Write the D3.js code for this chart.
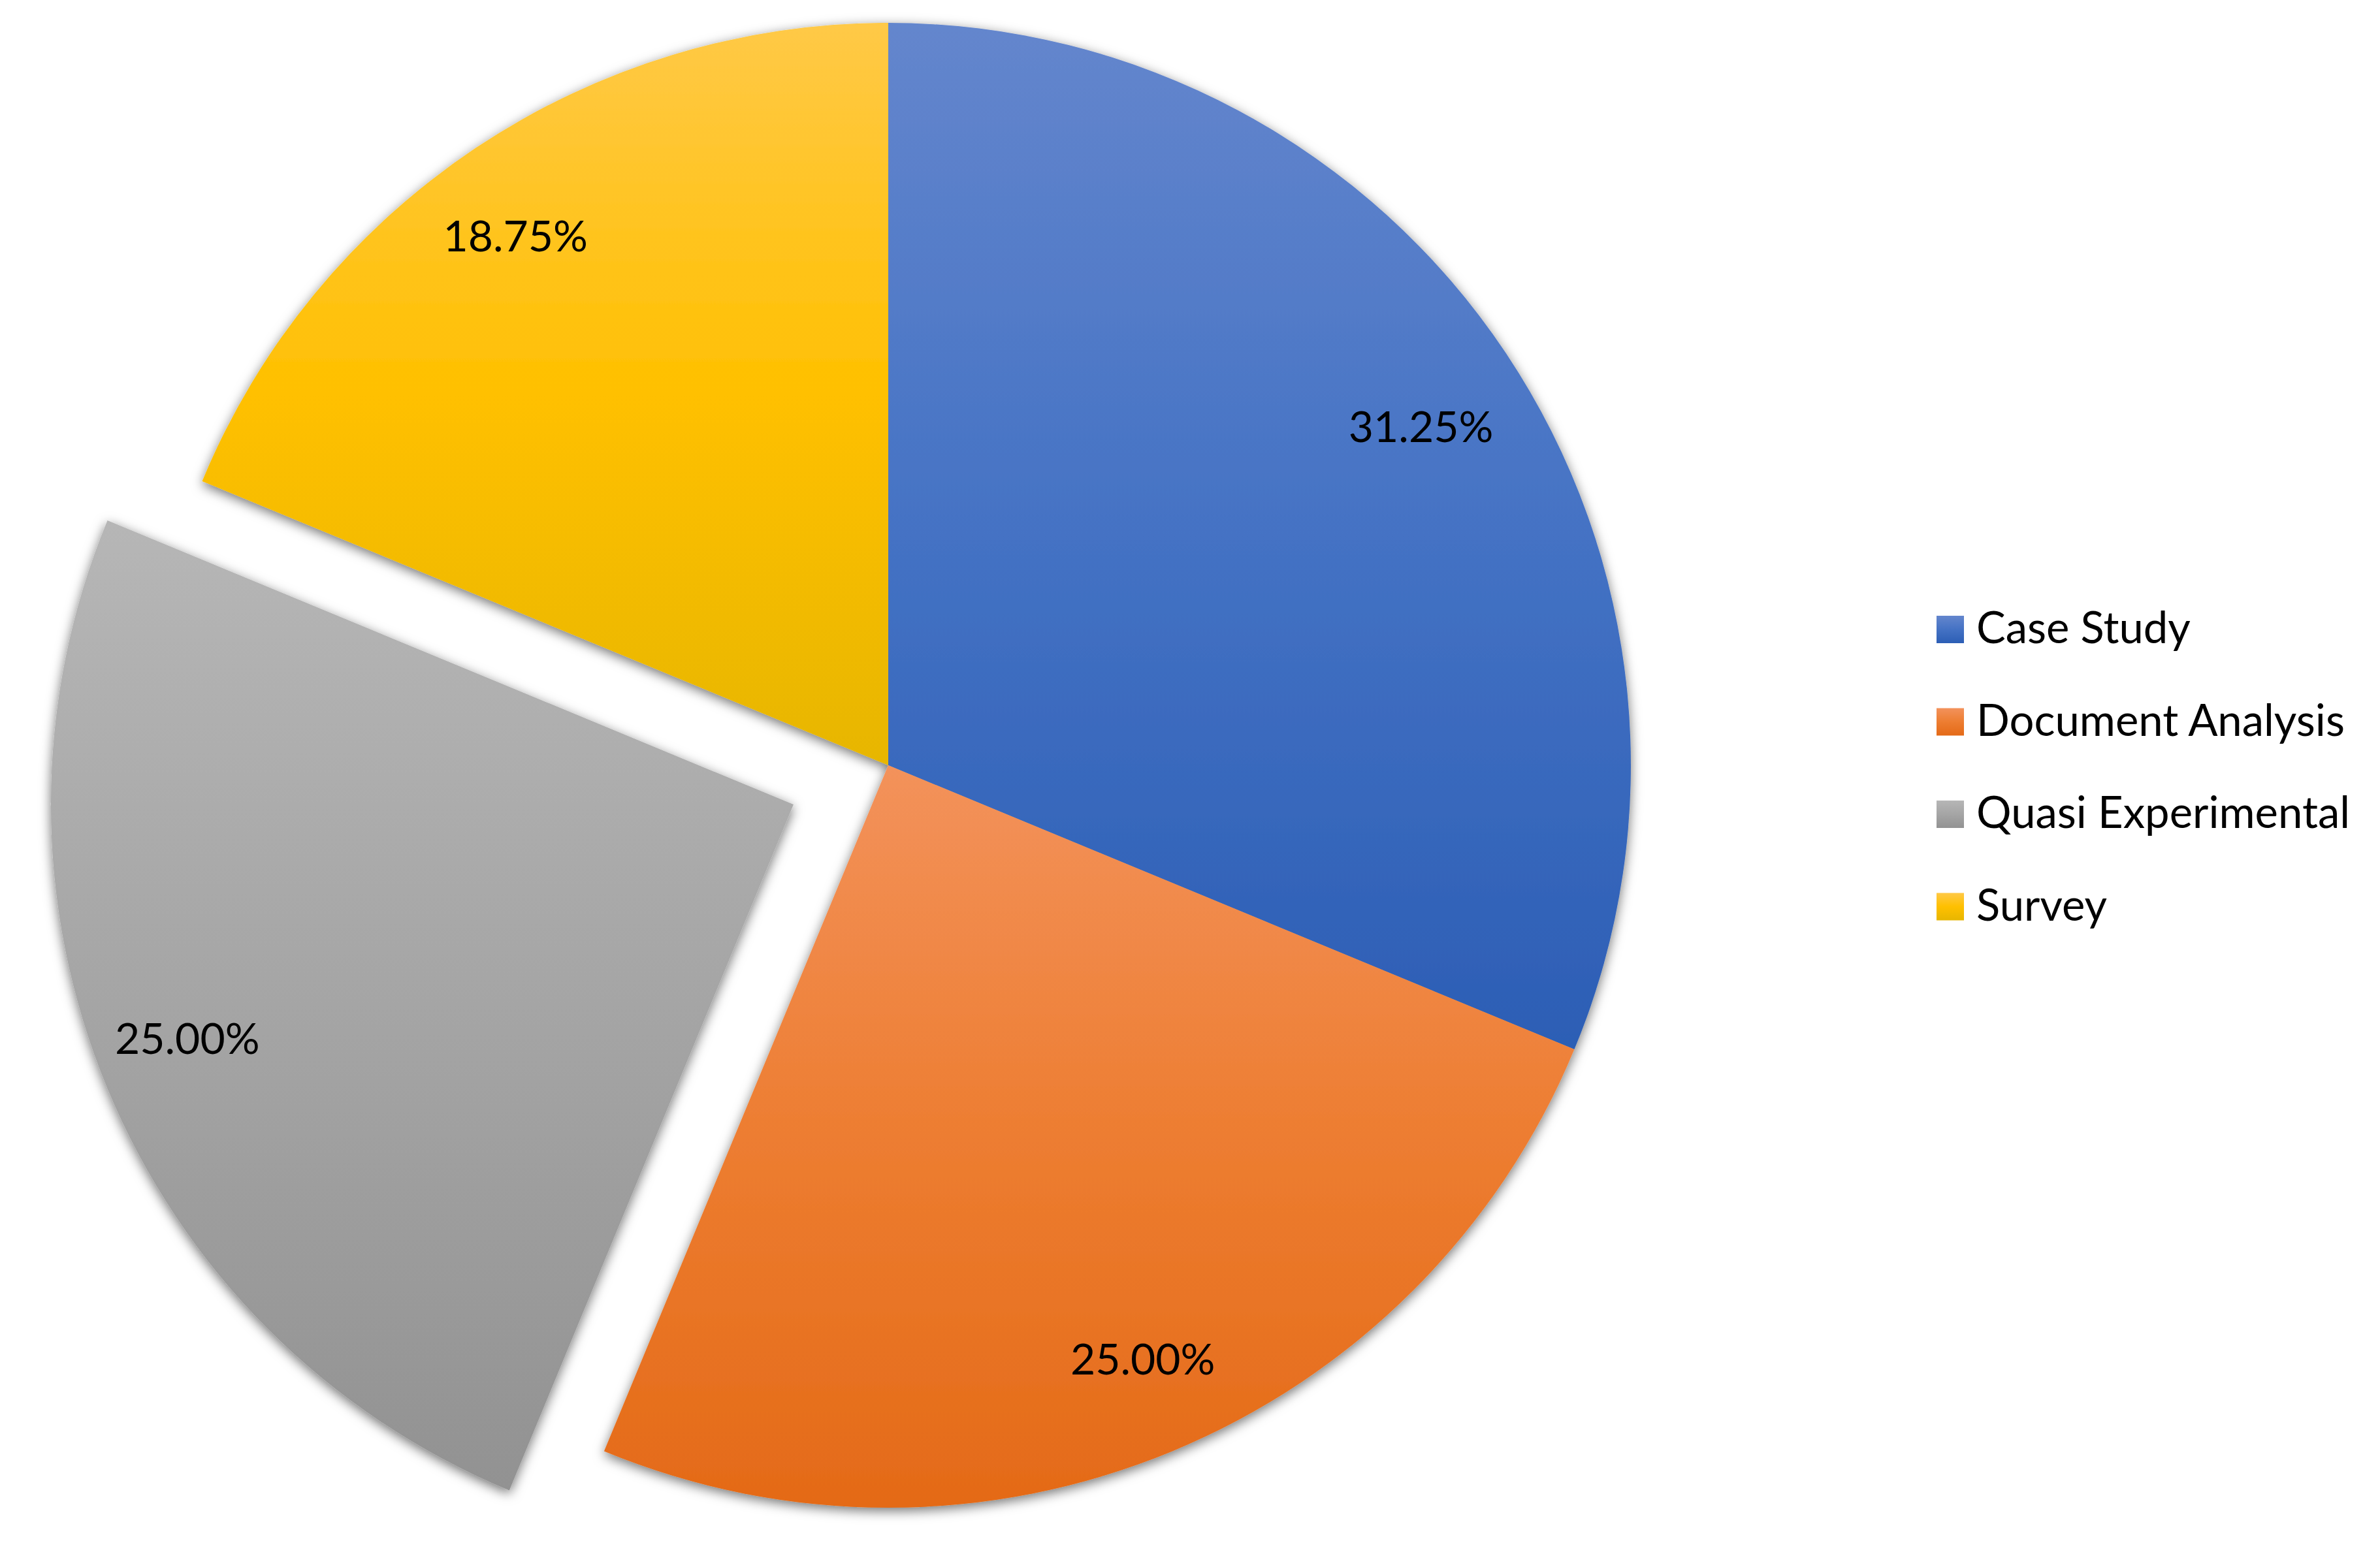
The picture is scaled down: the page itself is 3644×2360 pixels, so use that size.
<!DOCTYPE html>
<html>
<head>
<meta charset="utf-8">
<script src="https://cdn.jsdelivr.net/npm/d3@7"></script>
<style>
  html, body { margin: 0; padding: 0; background: #fff; }
  svg { display: block; }
</style>
</head>
<body>
<svg id="chart" width="3644" height="2360"></svg>
<script>
// ---- data ----
const categories = ["Case Study", "Document Analysis", "Quasi Experimental", "Survey"];
const values = [31.25, 25.00, 25.00, 18.75];
const valueLabels = ["31.25%", "25.00%", "25.00%", "18.75%"];
const exploded = [false, false, true, false];

// ---- styles ----
const gradientStops = [
  ["#6486CD", "#4472C4", "#2C5EB5"],
  ["#F3925B", "#ED7D31", "#E46A17"],
  ["#B6B6B6", "#A5A5A5", "#929292"],
  ["#FFC947", "#FFC000", "#E7B600"]
];
const labelAngleShift = [1.3, -0.7, 1.4, -1.4]; // degrees, best-fit tweaks
const labelRadiusRatio = [0.85, 0.87, 0.875, 0.872];

const W = 3644, H = 2360;
const cx = 1360, cy = 1172, R = 1137, explodeDist = 157;

const svg = d3.select("#chart");
const defs = svg.append("defs");

categories.forEach((c, i) => {
  const g = defs.append("linearGradient")
    .attr("id", "grad" + i)
    .attr("x1", 0).attr("y1", 0).attr("x2", 0).attr("y2", 1);
  gradientStops[i].forEach((col, k) => {
    g.append("stop").attr("offset", (k * 50) + "%").attr("stop-color", col);
  });
});

const filt = defs.append("filter").attr("id", "shadow")
  .attr("x", "-10%").attr("y", "-10%").attr("width", "120%").attr("height", "120%");
filt.append("feDropShadow")
  .attr("dx", 0).attr("dy", 5).attr("stdDeviation", 9)
  .attr("flood-color", "#000").attr("flood-opacity", 0.55);

const pie = d3.pie().sort(null).value(d => d).startAngle(0).endAngle(2 * Math.PI);
const arcs = pie(values);
const arc = d3.arc().innerRadius(0).outerRadius(R);

const pieG = svg.append("g").attr("transform", `translate(${cx},${cy})`)
  .attr("filter", "url(#shadow)");

function offsetOf(d, i) {
  if (!exploded[i]) return [0, 0];
  const a = (d.startAngle + d.endAngle) / 2;
  return [Math.sin(a) * explodeDist, -Math.cos(a) * explodeDist];
}

pieG.selectAll("path.slice").data(arcs).enter().append("path")
  .attr("class", "slice")
  .attr("transform", (d, i) => { const o = offsetOf(d, i); return `translate(${o[0]},${o[1]})`; })
  .attr("d", arc)
  .attr("fill", (d, i) => `url(#grad${i})`);

// data labels
const labelG = svg.append("g").attr("transform", `translate(${cx},${cy})`);
labelG.selectAll("text").data(arcs).enter().append("text")
  .attr("transform", (d, i) => {
    const o = offsetOf(d, i);
    const a = (d.startAngle + d.endAngle) / 2 + labelAngleShift[i] * Math.PI / 180;
    const r = R * labelRadiusRatio[i];
    return `translate(${o[0] + Math.sin(a) * r},${o[1] - Math.cos(a) * r})`;
  })
  .attr("text-anchor", "middle")
  .attr("dy", "0.36em")
  .attr("font-family", "Lato, 'Open Sans', sans-serif")
  .attr("font-size", 66)
  .attr("fill", "#000")
  .text((d, i) => valueLabels[i]);

// legend
const legY = d3.scalePoint().domain(categories).range([985, 1409.5]);
const legG = svg.append("g");
const rows = legG.selectAll("g").data(categories).enter().append("g")
  .attr("transform", d => `translate(2965,${legY(d)})`);
rows.append("rect")
  .attr("x", 0).attr("y", -42).attr("width", 42).attr("height", 42)
  .attr("fill", (d, i) => `url(#grad${i})`);
rows.append("text")
  .attr("x", 61).attr("y", 0)
  .attr("font-family", "Lato, 'Open Sans', sans-serif")
  .attr("font-size", 67)
  .attr("fill", "#000")
  .text(d => d);
</script>
</body>
</html>
